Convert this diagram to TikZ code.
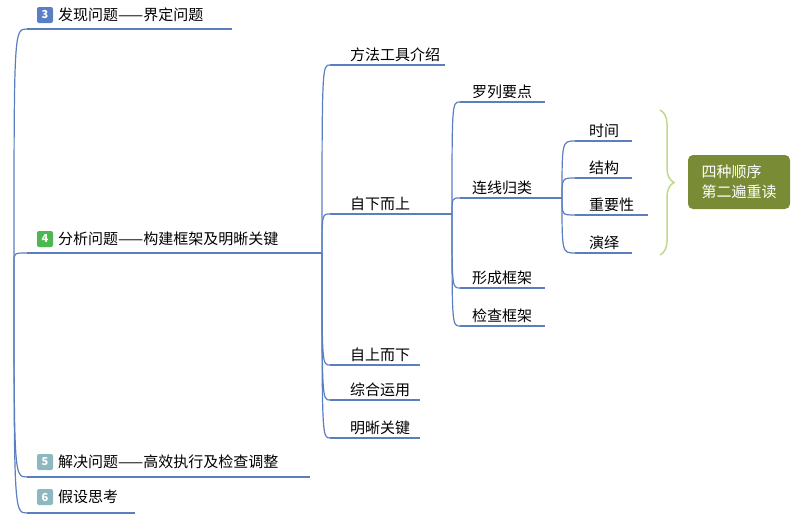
\documentclass[tikz,border=0pt]{standalone}
\usepackage{fontspec}
\setmainfont{Noto Sans CJK SC}
\usetikzlibrary{positioning,decorations.pathreplacing}
\definecolor{linkblue}{HTML}{5A7EC0}
\definecolor{badgeA}{HTML}{5B7FC7}
\definecolor{badgeB}{HTML}{4DB850}
\definecolor{badgeC}{HTML}{8DB8BF}
\definecolor{olive}{HTML}{7A8B35}
\definecolor{bracegreen}{HTML}{BFD98A}
\tikzset{
  link/.style={draw=linkblue, line width=1.2pt},
  topic/.style={anchor=south west, inner sep=2pt, font=\fontsize{15}{17}\selectfont, align=left},
  badge/.style={fill=#1, rounded corners=2pt, text=white, inner sep=1.5pt, minimum size=16pt,
    font=\fontsize{11}{12}\selectfont\bfseries},
}
\newcommand{\uline}[2]{\draw[link] (#1) -- (#2);}
\begin{document}
\begin{tikzpicture}[x=1pt,y=-1pt]
\useasboundingbox (0,0) rectangle (800,522);

% main topics
\node[badge=badgeA] (b3) at (45,15) {3};
\node[topic,anchor=west] (t3) at (56,15) {发现问题——界定问题};
\coordinate (s3) at (27,29); \coordinate (e3) at (232,29);
\node[badge=badgeB] (b4) at (45,239) {4};
\node[topic,anchor=west] (t4) at (56,239) {分析问题——构建框架及明晰关键};
\coordinate (s4) at (27,253); \coordinate (e4) at (310,253);
\node[badge=badgeC] (b5) at (45,462) {5};
\node[topic,anchor=west] (t5) at (56,462) {解决问题——高效执行及检查调整};
\coordinate (s5) at (27,477); \coordinate (e5) at (310,477);
\node[badge=badgeC] (b6) at (45,497) {6};
\node[topic,anchor=west] (t6) at (56,497) {假设思考};
\coordinate (s6) at (27,513); \coordinate (e6) at (135,513);
\coordinate (root) at (14,262);
\foreach \i in {3,4,5,6}{
  \uline{s\i}{e\i}
  \draw[link] (root) .. controls (root |- s\i) .. (s\i);
}

% second level
\coordinate (j4) at (322,253);
\draw[link] (e4) -- (j4);
\foreach \n/\y/\w/\t in {ff/65/115/方法工具介绍, zx/214/115/自下而上, zs/365/90/自上而下,
    zh/400/90/综合运用, mx/438/90/明晰关键}{
  \node[topic] (\n) at (348,\y-1) {\t};
  \coordinate (\n s) at (330,\y); \coordinate (\n e) at (330+\w,\y);
  \uline{\n s}{\n e}
  \draw[link] (j4) .. controls (j4 |- \n s) .. (\n s);
}

% third level
\coordinate (jz) at (452,214);
\draw[link] (zxe) -- (jz);
\foreach \n/\y/\t in {ll/102/罗列要点, lx/198/连线归类, xc/288/形成框架, jc/326/检查框架}{
  \node[topic] (\n) at (470,\y-1) {\t};
  \coordinate (\n s) at (460,\y); \coordinate (\n e) at (545,\y);
  \uline{\n s}{\n e}
  \draw[link] (jz) .. controls (jz |- \n s) .. (\n s);
}

% fourth level
\coordinate (jl) at (562,198);
\draw[link] (lxe) -- (jl);
\foreach \n/\y/\w/\t in {sj/141/57/时间, jg/178/57/结构, zy/215/73/重要性, yy/253/57/演绎}{
  \node[topic] (\n) at (587,\y-1) {\t};
  \coordinate (\n s) at (575,\y); \coordinate (\n e) at (575+\w,\y);
  \uline{\n s}{\n e}
  \draw[link] (jl) .. controls (jl |- \n s) .. (\n s);
}

% summary
\coordinate (bt) at (660,110); \coordinate (bb) at (660,255);
\draw[bracegreen, line width=1.5pt, decorate, decoration={brace, amplitude=14pt}] (bt) -- (bb);
\node[fill=olive, rounded corners=5pt, text=white, minimum width=102pt, minimum height=54pt,
  align=left, font=\fontsize{15}{20}\selectfont] (sx) at (739,182) {四种顺序\\ 第二遍重读};
\end{tikzpicture}
\end{document}
